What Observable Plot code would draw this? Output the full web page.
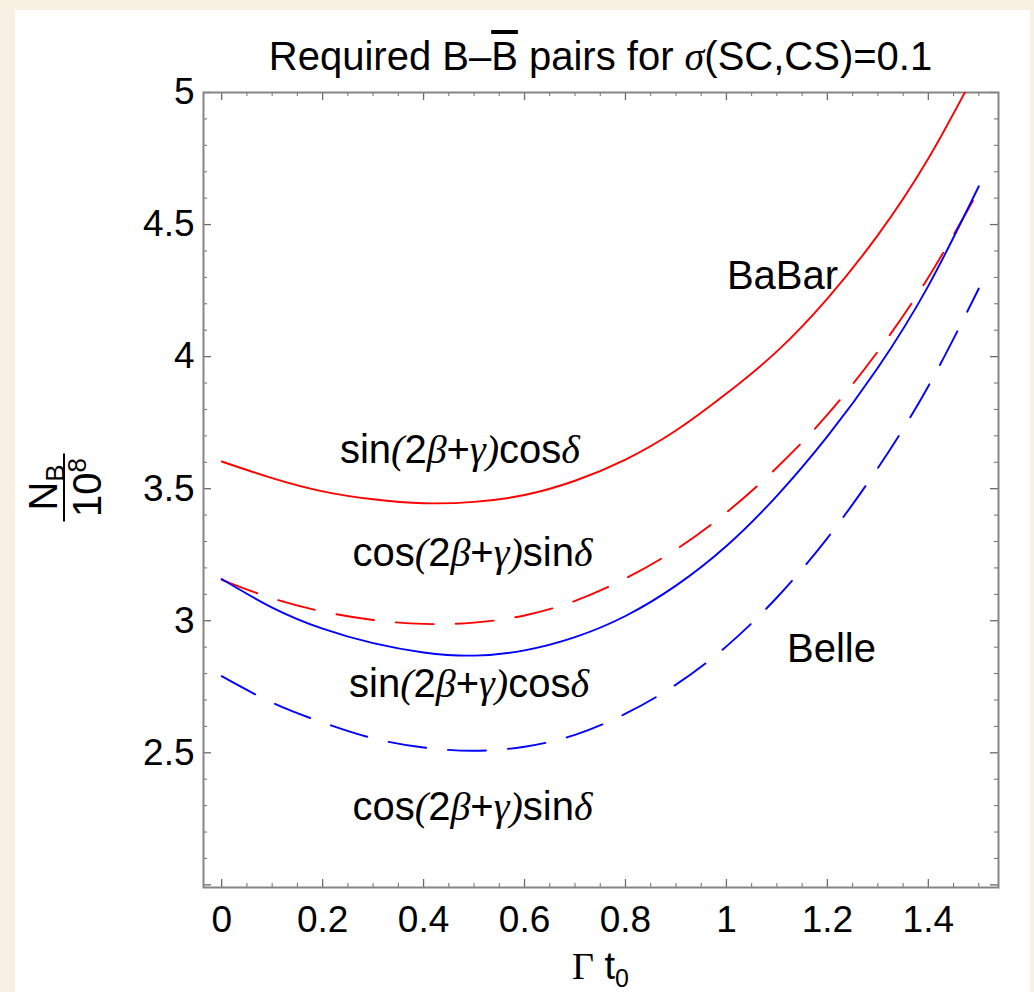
<!DOCTYPE html>
<html><head><meta charset="utf-8">
<script src="https://cdn.jsdelivr.net/npm/d3@7"></script>
<script src="https://cdn.jsdelivr.net/npm/@observablehq/plot@0.6"></script>
<style>
html,body{margin:0;padding:0;background:#f8f0e1;width:1034px;height:992px;overflow:hidden}
#panel{position:absolute;left:15px;top:10px;width:1015px;height:982px;background:#fff}
#panel svg{overflow:visible;display:block}
</style></head><body><div id="panel"></div>
<script>
// ---- data ----
const xs = [0, 0.1, 0.2, 0.3, 0.4, 0.5, 0.6, 0.7, 0.8, 0.9, 1.0, 1.1, 1.2, 1.3, 1.4, 1.5];
const babarSinCos = [3.603, 3.54, 3.49, 3.46, 3.445, 3.45, 3.476, 3.53, 3.61, 3.72, 3.86, 4.02, 4.22, 4.46, 4.75, 5.10];
const babarCosSin = [3.155, 3.085, 3.035, 3.003, 2.988, 2.993, 3.02, 3.075, 3.16, 3.27, 3.41, 3.58, 3.78, 4.02, 4.30, 4.63];
const belleSinCos = [3.158, 3.05, 2.97, 2.915, 2.88, 2.868, 2.888, 2.938, 3.018, 3.133, 3.283, 3.473, 3.698, 3.958, 4.268, 4.645];
const belleCosSin = [2.79, 2.69, 2.615, 2.555, 2.52, 2.508, 2.523, 2.568, 2.648, 2.758, 2.903, 3.088, 3.313, 3.578, 3.888, 4.258];

const xTicks = [0, 0.2, 0.4, 0.6, 0.8, 1.0, 1.2, 1.4];
const xTickLabels = ["0", "0.2", "0.4", "0.6", "0.8", "1", "1.2", "1.4"];
const yTicks = [2.5, 3, 3.5, 4, 4.5, 5];
const yTickLabels = ["2.5", "3", "3.5", "4", "4.5", "5"];

const labelTexts = ["BaBar", "sin(2β+γ)cosδ", "cos(2β+γ)sinδ", "Belle", "sin(2β+γ)cosδ", "cos(2β+γ)sinδ"];
const labelX = [1.111, 0.472, 0.497, 1.208, 0.49, 0.497];
const labelY = [4.303, 3.644, 3.254, 2.894, 2.758, 2.295];

// ---- build ----
const curve = (ys, series) => xs.map((x, i) => ({x, y: ys[i], series}));
const W = 1015, H = 982, mL = 188, mR = 32, mT = 82, mB = 105;
const fw = W - mL - mR, fh = H - mT - mB;
const xMinor = d3.range(0, 1.5001, 0.05).filter(v => Math.abs(v * 5 - Math.round(v * 5)) > 1e-6);
const yMajorAll = d3.range(2, 5.0001, 0.5);
const yMinor = d3.range(2, 5.0001, 0.1).filter(v => Math.abs(v * 2 - Math.round(v * 2)) > 1e-6);
const annotations = labelTexts.map((t, i) => ({t, x: labelX[i], y: labelY[i]}));
const font = "Liberation Sans, Arial, Helvetica, sans-serif";
const tickCol = "#6a6a6a";
const maj = 8, mnr = 4;

const svg = Plot.plot({
  width: W, height: H,
  marginLeft: mL, marginRight: mR, marginTop: mT, marginBottom: mB,
  style: {fontFamily: font, color: "black", background: "transparent", overflow: "visible"},
  x: {domain: [-0.036, 1.539]},
  y: {domain: [1.99, 5.0]},
  marks: [
    Plot.tickY(yMajorAll, {y: d => d, insetRight: fw - maj, stroke: tickCol, strokeWidth: 1.3}),
    Plot.tickY(yMajorAll, {y: d => d, insetLeft: fw - maj, stroke: tickCol, strokeWidth: 1.3}),
    Plot.tickY(yMinor, {y: d => d, insetRight: fw - mnr, stroke: tickCol, strokeWidth: 1}),
    Plot.tickY(yMinor, {y: d => d, insetLeft: fw - mnr, stroke: tickCol, strokeWidth: 1}),
    Plot.tickX(xTicks, {x: d => d, insetTop: fh - maj, stroke: tickCol, strokeWidth: 1.3}),
    Plot.tickX(xTicks, {x: d => d, insetBottom: fh - maj, stroke: tickCol, strokeWidth: 1.3}),
    Plot.tickX(xMinor, {x: d => d, insetTop: fh - mnr, stroke: tickCol, strokeWidth: 1}),
    Plot.tickX(xMinor, {x: d => d, insetBottom: fh - mnr, stroke: tickCol, strokeWidth: 1}),
    Plot.frame({stroke: "#858585", strokeWidth: 2}),
    Plot.line(curve(babarSinCos, "a"), {x: "x", y: "y", stroke: "#ff0000", strokeWidth: 1.9, curve: "natural", clip: true}),
    Plot.line(curve(babarCosSin, "b"), {x: "x", y: "y", stroke: "#ff0000", strokeWidth: 1.9, curve: "natural", strokeDasharray: "38,22", clip: true}),
    Plot.line(curve(belleSinCos, "c"), {x: "x", y: "y", stroke: "#0000ff", strokeWidth: 1.9, curve: "natural", clip: true}),
    Plot.line(curve(belleCosSin, "d"), {x: "x", y: "y", stroke: "#0000ff", strokeWidth: 1.9, curve: "natural", strokeDasharray: "38,22", clip: true}),
    Plot.text(annotations, {x: "x", y: "y", text: "t", fontSize: 40, fill: "black", textAnchor: "middle", lineAnchor: "middle"}),
    Plot.axisX(xTicks, {anchor: "bottom", tickSize: 0, tickPadding: 18, fontSize: 37, tickFormat: d => xTickLabels[xTicks.indexOf(d)], label: null}),
    Plot.axisY(yTicks, {anchor: "left", tickSize: 0, tickPadding: 9, fontSize: 37, tickFormat: d => yTickLabels[yTicks.indexOf(d)], label: null})
  ]
});
document.getElementById("panel").appendChild(svg);

const S = d3.select(svg);
const serif = "Liberation Serif, Times New Roman, serif";
function rich(textSel, str) {
  textSel.text(null);
  for (const ch of str) {
    const t = textSel.append("tspan").text(ch);
    if ("βγδσ()".includes(ch)) t.attr("font-family", serif).attr("font-style", "italic");
  }
}
S.selectAll("text").filter(function() {
  return /[βγδ]/.test(this.textContent) && !this.querySelector("tspan");
}).each(function() {
  const el = d3.select(this);
  rich(el, el.text());
});

// title
const cx = mL + fw / 2;
const title = S.append("text").attr("x", cx).attr("y", 60).attr("text-anchor", "middle")
  .attr("font-size", 40).attr("font-family", font).attr("fill", "black");
title.append("tspan").text("Required B–");
title.append("tspan").text("B").style("text-decoration", "overline");
title.append("tspan").text(" pairs for ");
title.append("tspan").text("σ").attr("font-family", serif).attr("font-style", "italic");
title.append("tspan").text("(SC,CS)=0.1");

// x label
const xl = S.append("text").attr("x", cx).attr("y", 969).attr("text-anchor", "middle")
  .attr("font-size", 38).attr("font-family", font).attr("fill", "black");
xl.append("tspan").text("Γ").attr("font-family", serif);
xl.append("tspan").text(" t");
xl.append("tspan").text("0").attr("font-size", 25).attr("dy", 8);

// y label (fraction, rotated)
const g = S.append("g").attr("transform", `translate(${49},${mT + fh / 2 - 2}) rotate(-90)`)
  .attr("font-family", font).attr("fill", "black");
const num = g.append("text").attr("x", 0).attr("y", -7).attr("text-anchor", "middle").attr("font-size", 40);
num.append("tspan").text("N");
num.append("tspan").text("B").attr("font-size", 26).attr("dy", 7);
g.append("line").attr("x1", -34).attr("x2", 34).attr("y1", 0).attr("y2", 0).attr("stroke", "black").attr("stroke-width", 2);
const den = g.append("text").attr("x", 0).attr("y", 37).attr("text-anchor", "middle").attr("font-size", 40);
den.append("tspan").text("10");
den.append("tspan").text("8").attr("font-size", 26).attr("dy", -15);
</script></body></html>
